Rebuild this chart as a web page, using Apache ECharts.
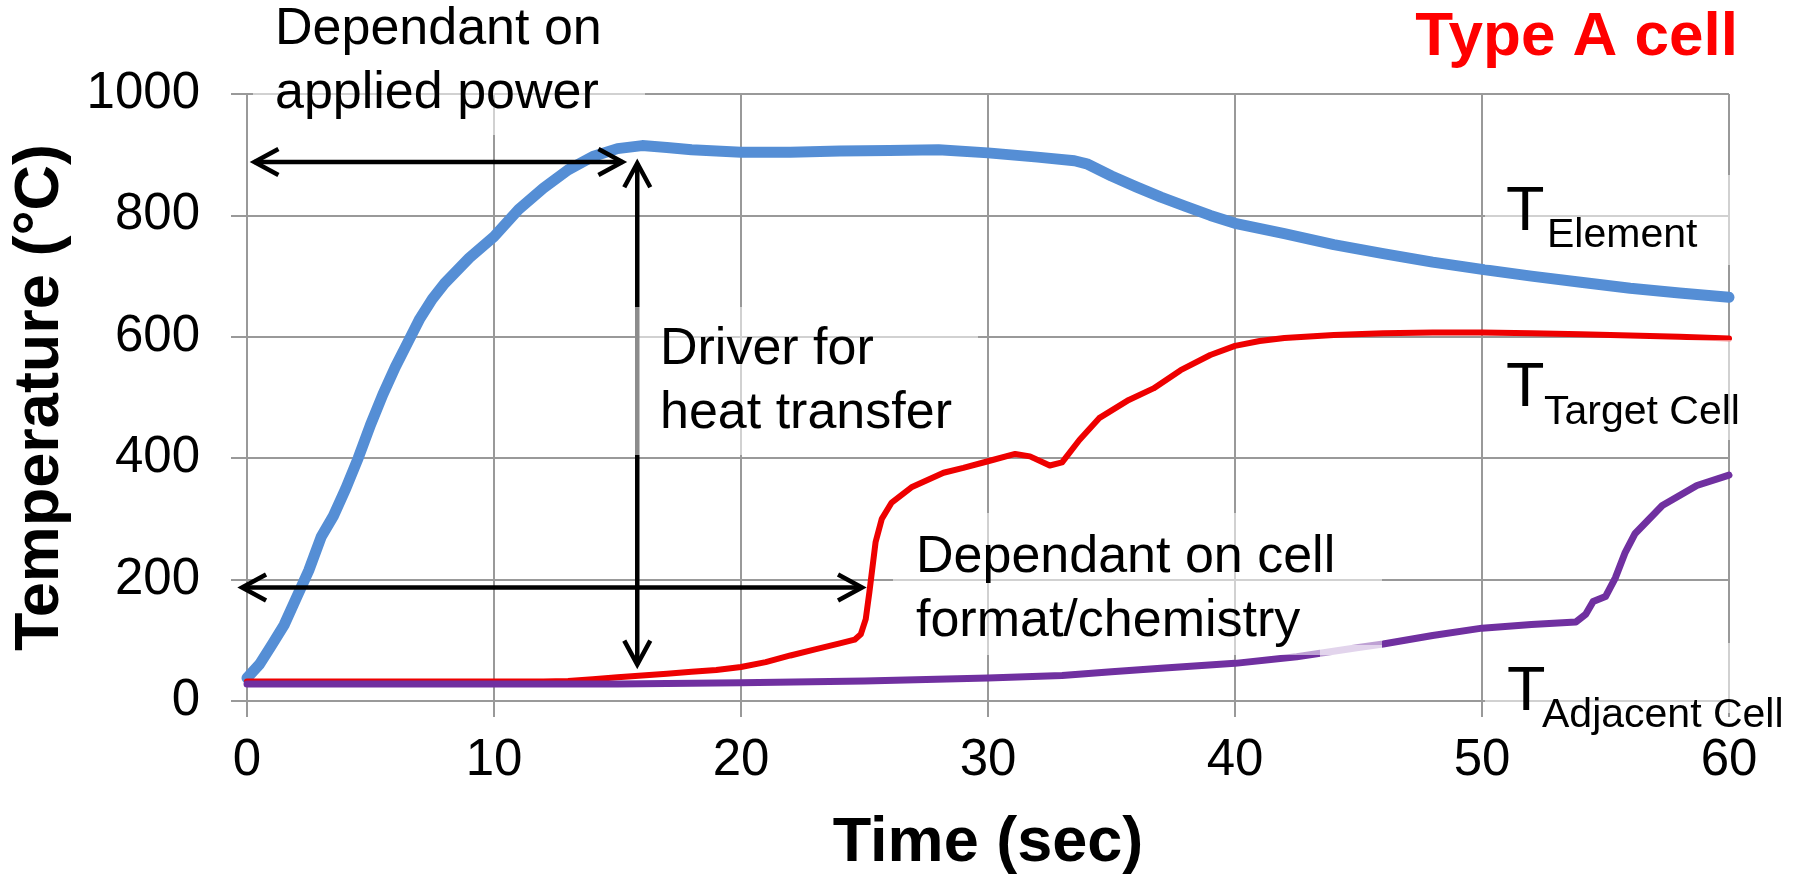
<!DOCTYPE html>
<html>
<head>
<meta charset="utf-8">
<script src="https://cdn.jsdelivr.net/npm/echarts@6/dist/echarts.min.js"></script>
<style>
  html, body { margin: 0; padding: 0; background: #fff; }
  #chart { width: 1804px; height: 880px; }
</style>
</head>
<body>
<div id="chart"></div>
<script>
var FONT = '"Liberation Sans", Arial, sans-serif';

// T Element (blue)
var timeElement = [0, 0.5, 1, 1.5, 2, 2.5, 3, 3.5, 4, 4.5, 5, 5.5, 6, 6.5, 7, 7.5, 8, 9, 10, 11, 12, 13, 14, 15, 16, 17, 18, 20, 22, 24, 26, 28, 30, 32, 33.5, 34, 35, 36, 37, 38, 39, 40, 42, 44, 46, 48, 50, 52, 54, 56, 58, 60];
var tempElement = [38, 60, 92, 125, 170, 215, 270, 305, 350, 400, 455, 505, 550, 590, 630, 662, 688, 730, 765, 810, 845, 875, 897, 910, 915, 912, 908, 904, 904, 906, 907, 908, 903, 896, 890, 885, 865, 847, 830, 815, 800, 787, 770, 752, 737, 723, 711, 700, 690, 680, 672, 665];

// T Target Cell (red)
var timeTarget = [0, 5, 10, 12, 13, 14, 15, 16, 17, 18, 19, 20, 21, 22, 23, 24, 24.6, 24.85, 25.05, 25.2, 25.45, 25.7, 26.1, 26.9, 28.2, 29, 30, 31.1, 31.7, 32.5, 33, 33.7, 34.5, 35.7, 36.7, 37.8, 39, 40, 41, 42, 44, 46, 48, 50, 52, 54, 56, 58, 60];
var tempTarget = [32, 32, 32, 32, 33, 36, 39, 42, 45, 48, 51, 56, 64, 75, 85, 95, 101, 110, 135, 180, 262, 300, 327, 352, 376, 384, 395, 407, 403, 388, 393, 430, 466, 496, 515, 545, 570, 585, 593, 598, 603, 606, 607, 607, 606, 604, 602, 600, 597];

// T Adjacent Cell (purple)
var timeAdjacent = [0, 10, 15, 20, 25, 30, 33, 35, 37, 40, 42.5, 45, 46, 48, 50, 52, 53.8, 54.2, 54.5, 55, 55.4, 55.8, 56.2, 57.3, 58.7, 60];
var tempAdjacent = [28, 28, 28, 30, 33, 38, 42, 48, 54, 62, 73, 88, 94, 108, 120, 126, 130, 143, 164, 172, 203, 245, 276, 322, 355, 372];

// annotation arrows, in data units: start and end points
var arrowStart = [[0.3, 888], [15.8, 886], [-0.2, 187]];
var arrowEnd = [[15.2, 888], [15.8, 60], [24.9, 187]];

var xTicks = { min: 0, max: 60, interval: 10 };
var yTicks = { min: 0, max: 1000, interval: 200 };

function zip(xs, ys) {
  return xs.map(function (x, i) { return [x, ys[i]]; });
}

function lineSeries(name, xs, ys, color, width) {
  return {
    name: name,
    type: 'line',
    data: zip(xs, ys),
    showSymbol: false,
    smooth: false,
    lineStyle: { color: color, width: width, join: 'round', cap: 'round' },
    z: 2
  };
}

function renderArrow(params, api) {
  var a = api.coord([api.value(0), api.value(1)]);
  var b = api.coord([api.value(2), api.value(3)]);
  var dx = b[0] - a[0], dy = b[1] - a[1];
  var len = Math.sqrt(dx * dx + dy * dy);
  var ux = dx / len, uy = dy / len;
  var L = 24, W = 13;
  function head(tip, sx, sy) {
    return [
      [tip[0] - sx * L - sy * W, tip[1] - sy * L + sx * W],
      tip,
      [tip[0] - sx * L + sy * W, tip[1] - sy * L - sx * W]
    ];
  }
  var st = { stroke: '#000', lineWidth: 4.5, fill: null, lineJoin: 'miter' };
  return {
    type: 'group',
    children: [
      { type: 'line', shape: { x1: a[0], y1: a[1], x2: b[0], y2: b[1] }, style: st },
      { type: 'polyline', shape: { points: head(b, ux, uy) }, style: st },
      { type: 'polyline', shape: { points: head(a, -ux, -uy) }, style: st }
    ]
  };
}

function txt(str, x, baseline, size, opts) {
  opts = opts || {};
  return {
    type: 'text',
    z: 101,
    x: x,
    y: baseline - size * 0.36,
    style: {
      text: str,
      font: (opts.bold ? 'bold ' : '') + size + 'px ' + FONT,
      fill: opts.color || '#000',
      textAlign: opts.align || 'left',
      textVerticalAlign: 'middle'
    }
  };
}

function veil(x, y, w, h) {
  return {
    type: 'rect', z: 100,
    shape: { x: x, y: y, width: w, height: h },
    style: { fill: 'rgba(255,255,255,0.55)' }
  };
}

var gridColor = '#999';

var chart = echarts.init(document.getElementById('chart'), null, { renderer: 'canvas' });
chart.setOption({
  animation: false,
  backgroundColor: '#fff',
  textStyle: { fontFamily: FONT },
  grid: { left: 247, right: 75, top: 94, bottom: 172, containLabel: false },
  xAxis: {
    type: 'value',
    min: xTicks.min, max: xTicks.max, interval: xTicks.interval,
    name: 'Time (sec)',
    nameLocation: 'middle',
    nameGap: 111,
    nameTextStyle: { fontSize: 63, fontWeight: 'bold', color: '#000', fontFamily: FONT },
    axisLine: { show: true, lineStyle: { color: gridColor, width: 2 } },
    axisTick: { show: true, length: 16, lineStyle: { color: gridColor, width: 2 } },
    axisLabel: { fontSize: 51, margin: 34, color: '#000', fontFamily: FONT },
    splitLine: { show: true, lineStyle: { color: gridColor, width: 2 } }
  },
  yAxis: {
    type: 'value',
    min: yTicks.min, max: yTicks.max, interval: yTicks.interval,
    name: 'Temperature (°C)',
    nameLocation: 'middle',
    nameGap: 175,
    nameTextStyle: { fontSize: 63, fontWeight: 'bold', color: '#000', fontFamily: FONT },
    axisLine: { show: true, lineStyle: { color: gridColor, width: 2 } },
    axisTick: { show: true, length: 16, lineStyle: { color: gridColor, width: 2 } },
    axisLabel: {
      fontSize: 51, margin: 47, color: '#000', fontFamily: FONT,
      formatter: function (v) { return String(v); }
    },
    splitLine: { show: true, lineStyle: { color: gridColor, width: 2 } }
  },
  series: [
    lineSeries('T Element', timeElement, tempElement, '#558ed5', 11),
    lineSeries('T Target Cell', timeTarget, tempTarget, '#ee0000', 6),
    lineSeries('T Adjacent Cell', timeAdjacent, tempAdjacent, '#7030a0', 7),
    {
      type: 'custom',
      renderItem: renderArrow,
      data: arrowStart.map(function (s, i) { return s.concat(arrowEnd[i]); }),
      encode: { x: [0, 2], y: [1, 3] },
      clip: false,
      silent: true,
      z: 5
    }
  ],
  graphic: [
    veil(253, 0, 392, 135),
    veil(635, 307, 343, 148),
    veil(893, 513, 489, 142),
    veil(1320, 645, 62, 25),
    veil(1485, 175, 310, 90),
    veil(1485, 340, 310, 100),
    veil(1485, 643, 319, 70),
    txt('Type A cell', 1738, 60, 62, { bold: true, color: '#ff0000', align: 'right' }),
    txt('Dependant on', 275, 48, 52),
    txt('applied power', 275, 112, 52),
    txt('Driver for', 660, 368, 52),
    txt('heat transfer', 660, 432, 52),
    txt('Dependant on cell', 916, 576, 52),
    txt('format/chemistry', 916, 640, 52),
    txt('T', 1506, 235, 63),
    txt('Element', 1547, 250, 41),
    txt('T', 1506, 411, 63),
    txt('Target Cell', 1544, 427, 41),
    txt('T', 1507, 715, 63),
    txt('Adjacent Cell', 1542, 730, 41)
  ]
});
</script>
</body>
</html>
